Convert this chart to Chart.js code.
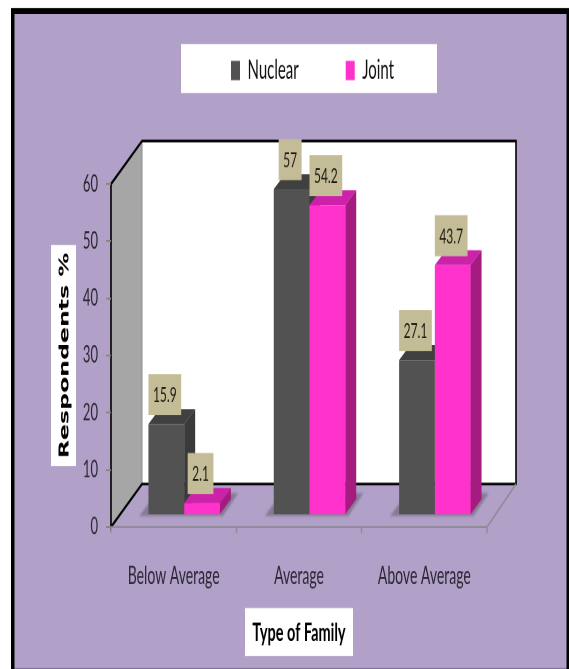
<!DOCTYPE html>
<html>
<head>
<meta charset="utf-8">
<title>Type of Family</title>
<script src="https://cdn.jsdelivr.net/npm/chart.js@4/dist/chart.umd.min.js"></script>
<style>
  html, body { margin: 0; padding: 0; background: #fff; overflow: hidden; }
  #wrap { width: 569px; height: 669px; overflow: hidden; }
  /* the whole chart is tall and squeezed, so stretch the canvas */
  #chart { display: block; transform-origin: 0 0; }
</style>
</head>
<body>
<div id="wrap"><canvas id="chart" width="569" height="382"></canvas></div>
<script>
const categories = ['Below Average', 'Average', 'Above Average'];
const nuclear = [15.9, 57, 27.1];
const joint = [2.1, 54.2, 43.7];
const yTicks = [0, 10, 20, 30, 40, 50, 60];

const STRETCH = 669 / 382;
const FONT = 'Lato, sans-serif';
const WALL_DX = 31, WALL_DY = -43 / STRETCH;   // floor depth
const BAR_DX = 10.5, BAR_DY = -12 / STRETCH;   // bars stand inside the floor
const FACE_DX = 11, FACE_DY = -15 / STRETCH;   // bar depth

document.getElementById('chart').style.transform = 'scaleY(' + STRETCH + ')';

const faces = [
  { front: '#525252', top: '#404040', side: '#3a3a3a' },
  { front: '#ff33cc', top: '#cc22aa', side: '#a51c80' }
];

function poly(ctx, pts, fill) {
  ctx.beginPath();
  pts.forEach((p, i) => i ? ctx.lineTo(p[0], p[1]) : ctx.moveTo(p[0], p[1]));
  ctx.closePath();
  ctx.fillStyle = fill;
  ctx.fill();
}

function line(ctx, pts, color, width) {
  ctx.beginPath();
  pts.forEach((p, i) => i ? ctx.lineTo(p[0], p[1]) : ctx.moveTo(p[0], p[1]));
  ctx.strokeStyle = color;
  ctx.lineWidth = width;
  ctx.stroke();
}

// --- Frame, white boxes and the 3D walls ---
const backdrop = {
  id: 'backdrop',
  beforeLayout(chart) {
    // the legend gets its own box, so it must not take room from the axes
    const lg = chart.legend;
    if (!lg._fitPatched) {
      const fit = lg.fit;
      lg.fit = function () { fit.call(this); this.height = 0; };
      lg._fitPatched = true;
    }
  },
  afterLayout(chart) {
    const lg = chart.legend;
    const labels = chart.options.plugins.legend.labels;
    lg.left = 231 - labels.padding;
    lg.right = chart.width;
    lg.width = lg.right - lg.left;
    lg.top = 67 / STRETCH - labels.padding - labels.boxHeight / 2;
  },
  beforeDraw(chart) {
    const { ctx, chartArea: a, scales } = chart;
    const h = chart.height;
    ctx.save();
    ctx.fillStyle = '#000';
    ctx.fillRect(11, 8 / STRETCH, 558, h);
    ctx.fillStyle = '#b1a0c7';
    ctx.fillRect(14.5, 14 / STRETCH, 552, h);
    ctx.fillStyle = '#7e6f96';
    ctx.fillRect(14.5, h - 1 / STRETCH, 552, 1 / STRETCH);

    // white boxes behind the legend and the axis titles
    ctx.fillStyle = '#fff';
    ctx.fillRect(181, 44 / STRETCH, 256, 49 / STRETCH);
    ctx.fillRect(51, 245 / STRETCH, 25, 221 / STRETCH);
    ctx.fillRect(245, 608 / STRETCH, 108, 48 / STRETCH);

    const yTop = scales.y.getPixelForValue(60);
    const yBot = scales.y.getPixelForValue(0);
    const l = a.left, r = a.right;
    const bl = l + WALL_DX, br = r + WALL_DX - 2;
    const bt = yTop + WALL_DY, bb = yBot + WALL_DY;

    // back wall and left wall
    poly(ctx, [[bl, bt], [br, bt], [br, bb], [bl, bb]], '#fff');
    poly(ctx, [[l, yBot], [bl, bb], [bl, bt], [l, yTop]], '#a6a6a6');
    line(ctx, [[bl, bt], [bl, bb]], '#8c8c8c', 1);

    // outlines
    line(ctx, [[l, yTop], [bl, bt], [br, bt], [br, bb], [bl, bb], [l, yBot], [l, yTop]], '#000', 1.6);
    line(ctx, [[l, yBot], [r, yBot], [br, bb]], '#918a96', 1.2);
    ctx.restore();
  },
  // sides and tops of the bars, the fronts come from the bar datasets
  beforeDatasetsDraw(chart) {
    const { ctx } = chart;
    ctx.save();
    ctx.translate(BAR_DX, BAR_DY);

    // soft shadow on the floor under each group
    const m0 = chart.getDatasetMeta(0).data;
    const m1 = chart.getDatasetMeta(1).data;
    ctx.filter = 'blur(1.5px)';
    m0.forEach((bar, i) => {
      const x0 = bar.x - bar.width / 2;
      const x1 = m1[i].x + m1[i].width / 2;
      const b = bar.base;
      poly(ctx, [[x0 - 9, b + 1], [x0 + 8, b - 12], [x1 + 18, b - 12], [x1 + 3, b + 1]], '#857a93');
    });
    ctx.filter = 'none';

    [0, 1].forEach(d => {
      chart.getDatasetMeta(d).data.forEach(bar => {
        const x0 = bar.x - bar.width / 2;
        const x1 = bar.x + bar.width / 2;
        const c = faces[d];
        poly(ctx, [[x1, bar.y], [x1 + FACE_DX, bar.y + FACE_DY], [x1 + FACE_DX, bar.base + FACE_DY], [x1, bar.base]], c.side);
        poly(ctx, [[x0, bar.y], [x0 + FACE_DX, bar.y + FACE_DY], [x1 + FACE_DX, bar.y + FACE_DY], [x1, bar.y]], c.top);
      });
    });
    ctx.restore();
    // fronts are shifted onto the floor as well
    ctx.save();
    ctx.translate(BAR_DX, BAR_DY);
  },
  afterDatasetsDraw(chart) {
    const { ctx } = chart;
    ctx.restore();

    // value tags
    ctx.save();
    ctx.font = '12px ' + FONT;
    ctx.textAlign = 'center';
    ctx.textBaseline = 'middle';
    [0, 1].forEach(d => {
      const values = chart.data.datasets[d].data;
      chart.getDatasetMeta(d).data.forEach((bar, i) => {
        const text = String(values[i]);
        const w = ctx.measureText(text).width + 9;
        const tagH = 41 / STRETCH;
        const cx = bar.x + BAR_DX - 1.5;
        const bottom = bar.y + BAR_DY - 9 / STRETCH;
        ctx.fillStyle = '#c4bc96';
        ctx.fillRect(cx - w / 2, bottom - tagH, w, tagH);
        ctx.fillStyle = '#1d1b14';
        ctx.fillText(text, cx, bottom - tagH / 2 + 0.5);
      });
    });
    ctx.restore();
  }
};

new Chart(document.getElementById('chart'), {
  type: 'bar',
  data: {
    labels: categories,
    datasets: [
      { label: 'Nuclear', data: nuclear, backgroundColor: faces[0].front, borderWidth: 0 },
      { label: 'Joint', data: joint, backgroundColor: faces[1].front, borderWidth: 0 }
    ]
  },
  options: {
    responsive: false,
    animation: false,
    devicePixelRatio: 2,
    layout: { padding: { top: 184 / STRETCH, right: 82, bottom: 0, left: 0 } },
    datasets: { bar: { categoryPercentage: 0.57, barPercentage: 1 } },
    plugins: {
      tooltip: { enabled: false },
      legend: {
        position: 'top',
        align: 'start',
        labels: {
          boxWidth: 9,
          boxHeight: 11,
          padding: 47,
          color: '#111',
          font: { family: FONT, size: 15 }
        }
      }
    },
    scales: {
      x: {
        afterFit: s => { s.height = (669 - 527) / STRETCH; },
        grid: { drawOnChartArea: false, color: '#918a96', tickLength: 3.5, tickWidth: 1.4 },
        border: { display: false },
        ticks: { color: '#2b2733', padding: 16, maxRotation: 0, font: { family: FONT, size: 14 } },
        title: {
          display: true,
          text: 'Type of Family',
          color: '#000',
          padding: { top: 0, bottom: 12 },
          font: { family: FONT, size: 14.5, weight: 'bold' }
        }
      },
      y: {
        min: 0,
        max: 60,
        afterFit: s => { s.width = 111; },
        afterBuildTicks: s => { s.ticks = yTicks.map(v => ({ value: v })); },
        grid: { drawOnChartArea: false, color: '#8a8578', tickLength: 5, tickWidth: 1 },
        border: { display: false },
        ticks: { color: '#2b2733', padding: 8, font: { family: FONT, size: 13 } },
        title: {
          display: true,
          text: 'Respondents %',
          color: '#000',
          padding: { top: 57, bottom: 0 },
          font: { family: '"DejaVu Sans"', size: 13.5, weight: 'bold' }
        }
      }
    }
  },
  plugins: [backdrop]
});
</script>
</body>
</html>
